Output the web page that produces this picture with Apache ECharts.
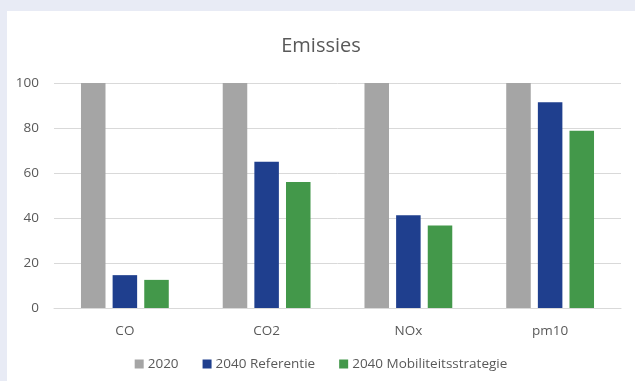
<!DOCTYPE html>
<html>
<head>
<meta charset="utf-8">
<script src="https://cdn.jsdelivr.net/npm/echarts@6/dist/echarts.min.js"></script>
<style>
  html, body { margin: 0; padding: 0; }
  body { width: 635px; height: 381px; background: #e8ebf5; position: relative; overflow: hidden; }
  #chart { position: absolute; left: 7px; top: 11px; width: 628px; height: 370px; background: #ffffff; }
</style>
</head>
<body>
<div id="chart"></div>
<script>
const title = 'Emissies';
const categories = ['CO', 'CO2', 'NOx', 'pm10'];
const seriesNames = ['2020', '2040 Referentie', '2040 Mobiliteitsstrategie'];
const values2020 = [100, 100, 100, 100];
const valuesReferentie = [14.6, 65, 41.2, 91.4];
const valuesMobiliteit = [12.5, 56, 36.7, 78.8];
const yTicks = [0, 20, 40, 60, 80, 100];

const colors = ['#a5a5a5', '#1f3f8e', '#43984a'];
const font = '"Open Sans", "Liberation Sans", sans-serif';
const textColor = '#595959';

const chart = echarts.init(document.getElementById('chart'));
const dataSets = [values2020, valuesReferentie, valuesMobiliteit];

chart.setOption({
  animation: false,
  title: {
    text: title,
    left: 'center',
    top: 20,
    textStyle: { fontFamily: font, fontSize: 20, fontWeight: 'normal', color: textColor }
  },
  legend: {
    data: seriesNames,
    bottom: 5,
    left: 'center',
    itemWidth: 9,
    itemHeight: 9,
    itemGap: 24,
    icon: 'rect',
    textStyle: { fontFamily: font, fontSize: 13.5, color: textColor, padding: [0, 0, 0, -1] }
  },
  grid: { left: 47, right: 14, top: 72, bottom: 73, containLabel: false },
  xAxis: {
    type: 'category',
    data: categories,
    axisLine: { lineStyle: { color: '#d9d9d9', width: 1 } },
    axisTick: { show: false },
    axisLabel: { fontFamily: font, fontSize: 13.5, color: textColor, margin: 16 }
  },
  yAxis: {
    type: 'value',
    min: yTicks[0],
    max: yTicks[yTicks.length - 1],
    interval: yTicks[1] - yTicks[0],
    axisLine: { show: false },
    axisTick: { show: false },
    splitLine: { lineStyle: { color: '#d9d9d9', width: 1 } },
    axisLabel: { fontFamily: font, fontSize: 13.5, color: textColor, margin: 15 }
  },
  series: seriesNames.map((name, i) => ({
    name: name,
    type: 'bar',
    data: dataSets[i],
    barWidth: '17.3%',
    barGap: '29%',
    itemStyle: { color: colors[i] }
  }))
});
</script>
</body>
</html>
